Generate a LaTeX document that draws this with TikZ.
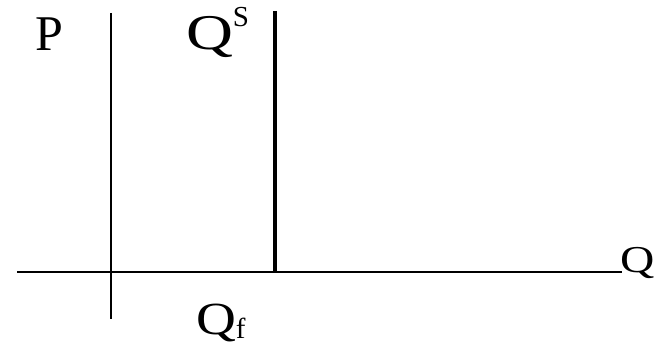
\documentclass[tikz,border=0pt]{standalone}
\usepackage{fontspec}
\setmainfont{Liberation Serif}
\usepackage{graphicx}
\tikzset{
  axis/.style={line width=1.3pt, black},
  supply/.style={line width=4pt, black},
  lbl/.style={inner sep=0pt, outer sep=0pt, anchor=base west}
}
\begin{document}
\begin{tikzpicture}[x=1pt,y=-1pt]
\useasboundingbox (0,0) rectangle (663,353);
% axes
\coordinate (vtop) at (111,13);
\coordinate (vbot) at (111,319);
\coordinate (hleft) at (17,272);
\coordinate (hright) at (622,272);
\coordinate (stop) at (275,11);
\coordinate (sbot) at (275,273);
\draw[axis] (vtop) -- (vbot);
\draw[axis] (hleft) -- (hright);
\draw[supply] (stop) -- (sbot);
% labels
\node[lbl] (p) at (35,51) {\fontsize{50}{50}\selectfont P};
\node[lbl] (qs) at (186,49) {\fontsize{50}{50}\selectfont\scalebox{1.3}[1]{Q}\fontsize{29}{29}\selectfont\raisebox{22pt}{S}};
\node[lbl] (qf) at (196,334) {\fontsize{46}{46}\selectfont\scalebox{1.2}[1]{Q}\fontsize{29}{29}\selectfont\raisebox{-4pt}{f}};
\node[lbl] (q) at (620,272) {\fontsize{38}{38}\selectfont\scalebox{1.25}[1]{Q}};
\end{tikzpicture}
\end{document}
